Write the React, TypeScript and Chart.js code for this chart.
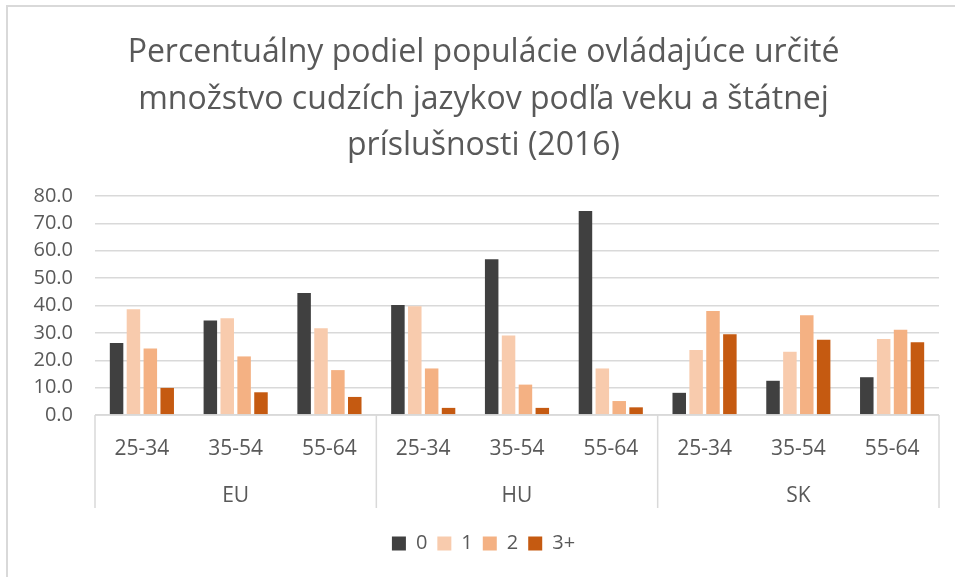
import React, { useEffect, useRef } from 'react';
import { Chart, registerables } from 'chart.js';

Chart.register(...registerables);

const titleLines = [
  'Percentuálny podiel populácie ovládajúce určité',
  'množstvo cudzích jazykov podľa veku a štátnej',
  'príslušnosti (2016)',
];
const ageGroups = ['25-34', '35-54', '55-64', '25-34', '35-54', '55-64', '25-34', '35-54', '55-64'];
const countries = ['EU', 'HU', 'SK'];
const seriesNames = ['0', '1', '2', '3+'];
const zeroLang = [26.3, 34.5, 44.6, 40.2, 56.9, 74.5, 8.1, 12.5, 13.8];
const oneLang = [38.6, 35.3, 31.7, 39.7, 29.0, 17.0, 23.7, 23.1, 27.8];
const twoLang = [24.3, 21.4, 16.4, 17.0, 11.1, 5.1, 38.0, 36.4, 31.1];
const threePlusLang = [9.9, 8.3, 6.6, 2.6, 2.6, 2.8, 29.5, 27.5, 26.6];
const yMin = 0;
const yMax = 80;
const yStep = 10;

const seriesColors = ['#404040', '#F8CBAD', '#F4B183', '#C55A11'];
const textColor = '#595959';
const lineColor = '#d9d9d9';
const FONT = '"Open Sans", "DejaVu Sans", sans-serif';
const groupLineGap = 15.5;

const groupLinesPlugin = {
  id: 'groupLines',
  beforeDraw(chart: any) {
    const ctx = chart.ctx;
    ctx.save();
    ctx.strokeStyle = lineColor;
    ctx.lineWidth = 2;
    ctx.beginPath();
    ctx.moveTo(7, chart.height);
    ctx.lineTo(7, 6);
    ctx.lineTo(chart.width, 6);
    ctx.stroke();
    ctx.restore();
  },
  afterDraw(chart: any) {
    const x = chart.scales.x;
    const x2 = chart.scales.x2;
    const ctx = chart.ctx;
    const per = ageGroups.length / countries.length;
    ctx.save();
    ctx.strokeStyle = lineColor;
    ctx.lineWidth = 1.5;
    for (let g = 0; g <= countries.length; g++) {
      const i = g * per;
      let px: number;
      if (i === 0) px = x.left;
      else if (i === ageGroups.length) px = x.right;
      else px = (x.getPixelForValue(i - 1) + x.getPixelForValue(i)) / 2;
      ctx.beginPath();
      ctx.moveTo(px, x.top);
      ctx.lineTo(px, x2.bottom - groupLineGap);
      ctx.stroke();
    }
    ctx.beginPath();
    ctx.moveTo(x.left, x.top);
    ctx.lineTo(x.right, x.top);
    ctx.stroke();
    ctx.restore();
  },
};

export default function App() {
  const ref = useRef<HTMLCanvasElement | null>(null);
  useEffect(() => {
    if (!ref.current) return;
    const data = [zeroLang, oneLang, twoLang, threePlusLang];
    const chart = new Chart(ref.current, {
      type: 'bar',
      data: {
        labels: ageGroups,
        datasets: seriesNames.map((name, i) => ({
          label: name,
          data: data[i],
          backgroundColor: seriesColors[i],
          borderWidth: 0,
          barPercentage: 0.8,
          categoryPercentage: 0.72,
        })),
      },
      options: {
        animation: false,
        responsive: false,
        devicePixelRatio: 1,
        layout: { padding: { left: 28, right: 16, top: 0, bottom: 13.5 } },
        plugins: {
          title: {
            display: true,
            text: titleLines,
            color: textColor,
            font: { family: FONT, size: 32, weight: 'normal', lineHeight: 1.45 },
            padding: { top: 30, bottom: 26.8 },
          },
          legend: {
            position: 'bottom',
            labels: {
              boxWidth: 14,
              boxHeight: 14,
              color: textColor,
              font: { family: FONT, size: 20 },
              padding: 10,
            },
          },
          tooltip: { enabled: false },
        },
        scales: {
          y: {
            min: yMin,
            max: yMax,
            ticks: {
              stepSize: yStep,
              color: textColor,
              font: { family: FONT, size: 20 },
              padding: 22,
              callback: (v: any) => Number(v).toFixed(1),
            },
            grid: { color: lineColor, lineWidth: 1.5, drawTicks: false },
            border: { display: false },
            afterFit: (s: any) => { s.width = 67; },
          },
          x: {
            offset: true,
            ticks: {
              color: textColor,
              font: { family: FONT, size: 21 },
              padding: 13,
              maxRotation: 0,
              autoSkip: false,
            },
            grid: { display: false },
            border: { display: false },
            afterFit: (s: any) => { s.height = 47; },
          },
          x2: {
            type: 'category',
            position: 'bottom',
            labels: countries,
            offset: true,
            ticks: {
              color: textColor,
              font: { family: FONT, size: 21 },
              padding: 13,
              maxRotation: 0,
            },
            grid: { display: false },
            border: { display: false },
            afterFit: (s: any) => { s.height = 61.5; },
          },
        },
      },
      plugins: [groupLinesPlugin],
    });
    return () => chart.destroy();
  }, []);
  return (
    <div style={{ position: 'absolute', left: 0, top: 0, width: 955, height: 577, background: '#fff' }}>
      <canvas ref={ref} width={955} height={577} />
    </div>
  );
}
